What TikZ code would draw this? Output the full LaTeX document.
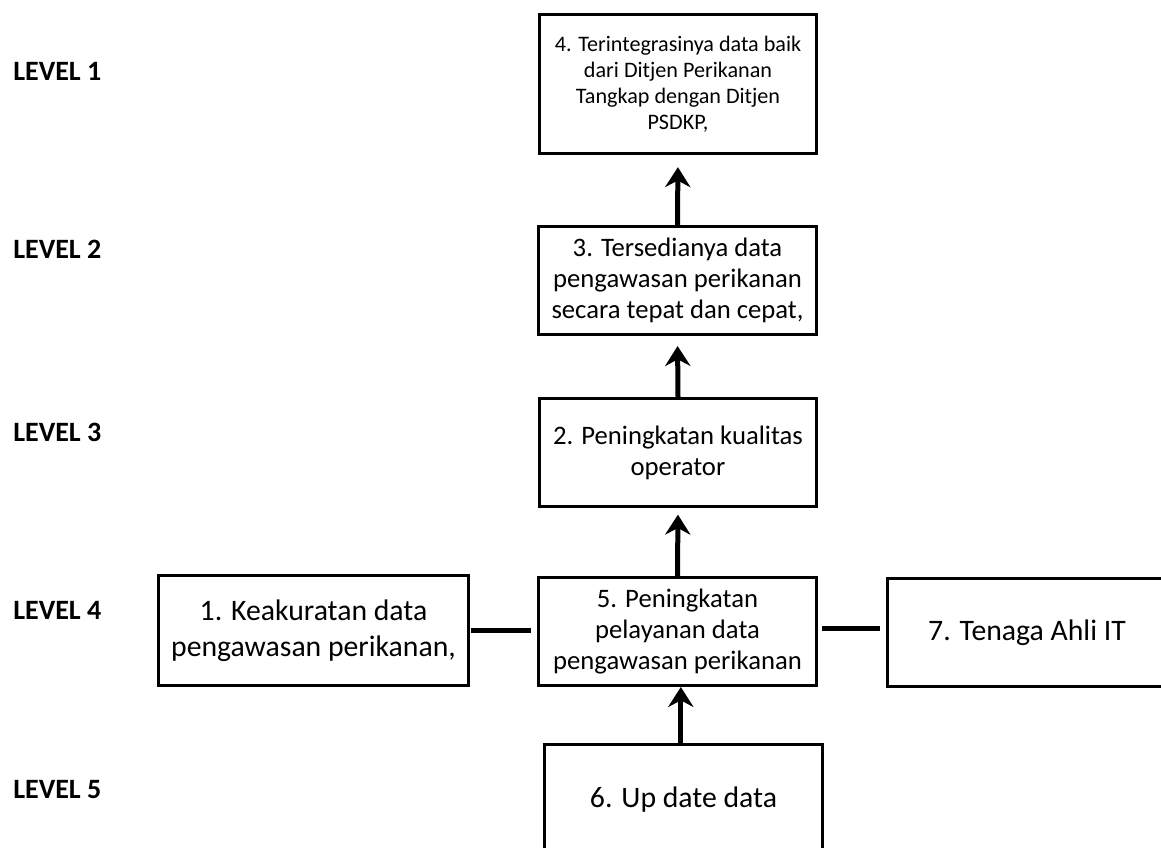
\documentclass[tikz,border=0pt]{standalone}
\usepackage{fontspec}
\setmainfont{Carlito}
\usetikzlibrary{arrows.meta}
\begin{document}
\begin{tikzpicture}[x=0.75pt,y=-0.75pt,
  box/.style={draw,line width=2.25pt,align=center,inner sep=0pt,anchor=center},
  txtsmall/.style={font=\fontsize{16.6}{19.5}\selectfont},
  txtmid/.style={font=\fontsize{20}{23.4}\selectfont},
  txtbig/.style={font=\fontsize{22.3}{27}\selectfont},
  lvl/.style={font=\fontsize{21}{24}\selectfont\bfseries,anchor=west,inner sep=0pt},
  up/.style={line width=3.75pt,-{Stealth[length=15pt,width=19pt,inset=5pt]}},
  link/.style={line width=3.75pt}]
\useasboundingbox (0,0) rectangle (1161,847);
\clip (0,0) rectangle (1161,847);

% level labels
\node[lvl] (l1) at (13,71) {LEVEL 1};
\node[lvl] (l2) at (13,249) {LEVEL 2};
\node[lvl] (l3) at (13,432) {LEVEL 3};
\node[lvl] (l4) at (13,610) {LEVEL 4};
\node[lvl] (l5) at (13,790) {LEVEL 5};

% boxes
\node[box,txtsmall,minimum width=208pt,minimum height=104.5pt] (b4) at (678,84)
  {4. Terintegrasinya data baik\\dari Ditjen Perikanan\\Tangkap dengan Ditjen\\PSDKP,};
\node[box,txtmid,minimum width=208.5pt,minimum height=81pt] (b3) at (677.5,280.5)
  {3. Tersedianya data\\pengawasan perikanan\\secara tepat dan cepat,};
\node[box,txtmid,minimum width=208pt,minimum height=81pt] (b2) at (678,452.5)
  {2. Peningkatan kualitas\\operator};
\node[box,txtmid,minimum width=208.5pt,minimum height=81pt] (b5) at (677.5,631.5)
  {5. Peningkatan\\pelayanan data\\pengawasan perikanan};
\node[box,txtbig,minimum width=232.5pt,minimum height=82.5pt] (b1) at (313.5,630.5)
  {1. Keakuratan data\\pengawasan perikanan,};
\node[box,txtbig,minimum width=209.5pt,minimum height=81pt] (b7) at (1027,632.5)
  {7. Tenaga Ahli IT};
\node[box,txtbig,minimum width=208.5pt,minimum height=83.5pt] (b6) at (683.5,800)
  {6. Up date data};

% connectors
\draw[up,shorten >=9pt] (b3.north) -- (b4.south);
\draw[up,shorten >=7.5pt] (b2.north) -- (b3.south);
\draw[up,shorten >=5pt] (b5.north) -- (b2.south);
\draw[up] ([xshift=-2pt]b6.north) -- ([xshift=-2pt]b6.north |- b5.south);
\draw[link,shorten <=1pt,shorten >=4.5pt] (b1.east) -- (b1.east -| b5.west);
\draw[link,shorten <=3pt,shorten >=4.5pt] ([yshift=2.5pt]b5.east) -- ([yshift=2.5pt]b5.east -| b7.west);
\end{tikzpicture}
\end{document}
